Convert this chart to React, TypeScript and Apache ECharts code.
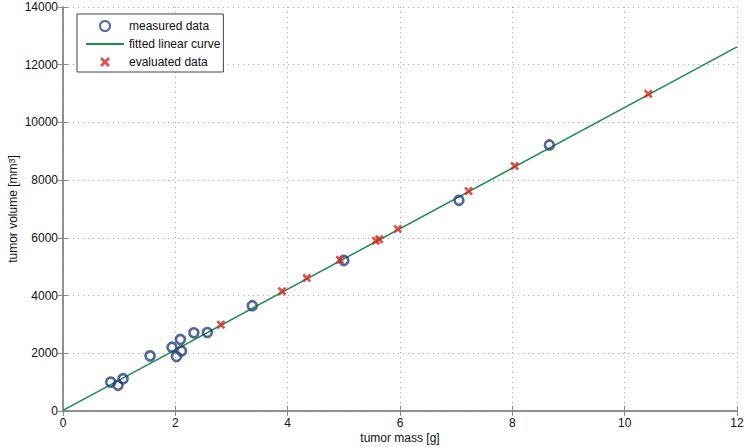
import React, { useEffect, useRef } from "react";
import * as echarts from "echarts";

const measuredMass = [0.85, 0.98, 1.07, 1.55, 1.94, 2.02, 2.09, 2.11, 2.33, 2.57, 3.37, 5.0, 7.05, 8.66];
const measuredVolume = [1000, 890, 1120, 1910, 2210, 1890, 2480, 2080, 2710, 2720, 3650, 5220, 7300, 9220];
const evaluatedMass = [2.81, 3.9, 4.34, 4.93, 5.57, 5.63, 5.96, 7.22, 8.04, 10.42];
const evaluatedVolume = [2990, 4150, 4610, 5240, 5900, 5950, 6310, 7620, 8490, 10990];
const fitMass = [0, 12];
const fitVolume = [20, 12620];

const xRange = [0, 12];
const yRange = [0, 14000];

const FONT = "'Liberation Sans', Arial, Helvetica, sans-serif";
const BLUE = "#27417f";
const RED = "#d42a20";
const GREEN = "#1f8a4c";
const AXIS = "#8a8a8a";
const CROSS =
  "path://M0,2.1 L2.1,0 L5,2.9 L7.9,0 L10,2.1 L7.1,5 L10,7.9 L7.9,10 L5,7.1 L2.1,10 L0,7.9 L2.9,5 Z";

export default function App() {
  const ref = useRef<HTMLDivElement>(null);
  useEffect(() => {
    if (!ref.current) return;
    const chart = echarts.init(ref.current, undefined, { renderer: "svg" });
    const tickStyle = { show: true, inside: true, length: 5, lineStyle: { color: AXIS, width: 1 } };
    const axisLine = { show: true, lineStyle: { color: AXIS, width: 1.5 } };
    const split = { show: true, lineStyle: { color: "#a8a8a8", type: [1, 4] as any, width: 1 } };
    chart.setOption({
      animation: false,
      textStyle: { fontFamily: FONT },
      grid: {
        left: 63,
        right: 8,
        top: 7,
        bottom: 36,
        show: false,
        containLabel: false,
        outerBoundsMode: "none",
      },
      legend: {
        left: 77,
        top: 14,
        orient: "vertical",
        data: [
          { name: "measured data" },
          { name: "fitted linear curve", itemStyle: { opacity: 0 } },
          { name: "evaluated data" },
        ],
        backgroundColor: "#fff",
        borderColor: "#444",
        borderWidth: 1,
        borderRadius: 0,
        padding: [6, 3, 4, 8],
        itemWidth: 38,
        itemHeight: 10,
        itemGap: 6,
        textStyle: { fontSize: 12, color: "#111", fontFamily: FONT, lineHeight: 12 },
      },
      xAxis: [
        {
          type: "value",
          min: xRange[0],
          max: xRange[1],
          interval: 2,
          name: "tumor mass [g]",
          nameLocation: "middle",
          nameGap: 21,
          nameMoveOverlap: false,
          nameTextStyle: { fontSize: 12, color: "#111", fontFamily: FONT },
          axisLine,
          axisTick: tickStyle,
          axisLabel: { fontSize: 12, color: "#111", margin: 6, fontFamily: FONT },
          splitLine: split,
        },
        {
          type: "value",
          position: "top",
          min: xRange[0],
          max: xRange[1],
          interval: 2,
          axisLine,
          axisTick: tickStyle,
          axisLabel: { show: false },
          splitLine: { show: false },
        },
      ],
      yAxis: [
        {
          type: "value",
          min: yRange[0],
          max: yRange[1],
          interval: 2000,
          name: "tumor volume [mm{sup|3}]",
          nameLocation: "middle",
          nameGap: 44,
          nameMoveOverlap: false,
          nameTextStyle: {
            fontSize: 12,
            color: "#111",
            fontFamily: FONT,
            rich: { sup: { fontSize: 9, verticalAlign: "top", color: "#111", fontFamily: FONT } },
          },
          axisLine,
          axisTick: tickStyle,
          axisLabel: {
            fontSize: 12,
            color: "#111",
            margin: 5,
            fontFamily: FONT,
            formatter: (v: number) => String(v),
          },
          splitLine: split,
        },
        {
          type: "value",
          position: "right",
          min: yRange[0],
          max: yRange[1],
          interval: 2000,
          axisLine,
          axisTick: tickStyle,
          axisLabel: { show: false },
          splitLine: { show: false },
        },
      ],
      series: [
        {
          name: "fitted linear curve",
          type: "line",
          data: fitMass.map((m, i) => [m, fitVolume[i]]),
          showSymbol: false,
          symbol: "none",
          lineStyle: { color: GREEN, width: 1.5 },
          itemStyle: { color: GREEN },
          z: 2,
        },
        {
          name: "measured data",
          type: "scatter",
          data: measuredMass.map((m, i) => [m, measuredVolume[i]]),
          symbol: "circle",
          symbolSize: 9,
          itemStyle: { color: "rgba(0,0,0,0)", borderColor: BLUE, borderWidth: 2.6 },
          z: 3,
        },
        {
          name: "evaluated data",
          type: "scatter",
          data: evaluatedMass.map((m, i) => [m, evaluatedVolume[i]]),
          symbol: CROSS,
          symbolSize: 9,
          itemStyle: { color: RED },
          z: 4,
        },
      ],
    });
    return () => chart.dispose();
  }, []);
  return (
    <div
      ref={ref}
      style={{ position: "absolute", left: 0, top: 0, width: 745, height: 447, background: "#fff" }}
    />
  );
}
